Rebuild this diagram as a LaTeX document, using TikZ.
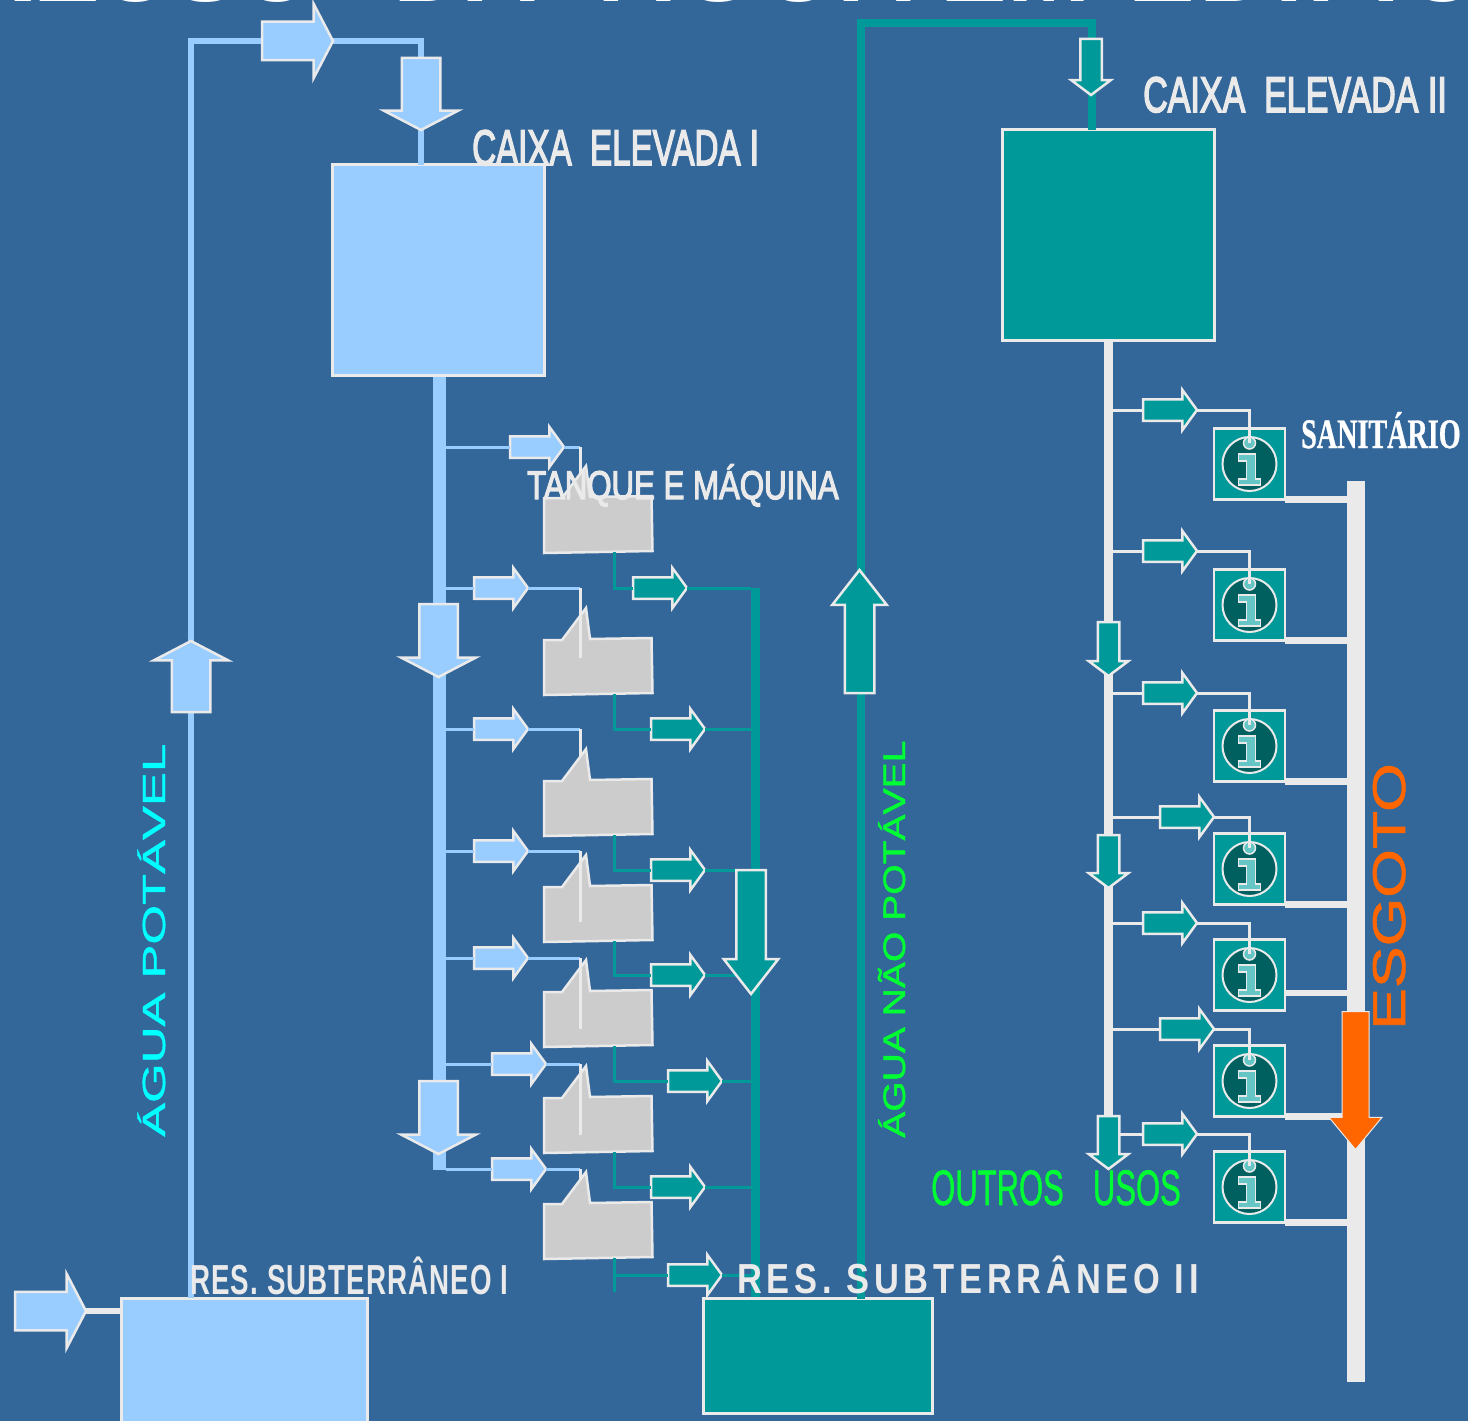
\documentclass[tikz,border=0pt]{standalone}
\usepackage{fontspec}
\setmainfont{Liberation Sans}
\newfontfamily\lblfont[FakeBold=3.5]{Liberation Sans}
\newfontfamily\thinfont[FakeBold=1.2]{Liberation Sans}
\newfontfamily\serfont[FakeBold=1]{Liberation Serif Bold}
\newfontfamily\resfont[LetterSpace=14]{Liberation Sans Bold}
\newfontfamily\restight[LetterSpace=4]{Liberation Sans Bold}
\usetikzlibrary{shapes.arrows}
\definecolor{bgblue}{HTML}{336699}
\definecolor{potfill}{HTML}{99CCFF}
\definecolor{nonpot}{HTML}{009999}
\definecolor{edge}{HTML}{EAEAEA}
\definecolor{tankgray}{HTML}{CCCCCC}
\definecolor{sewer}{HTML}{FF6600}
\definecolor{icondark}{HTML}{005F5F}
\definecolor{iconlight}{HTML}{66C6C6}
\definecolor{potlabel}{HTML}{00FFFF}
\definecolor{nonpotlabel}{HTML}{00FF33}

\begin{document}
\begin{tikzpicture}[
  x=1pt, y=-1pt,
  flowarr/.style n args={4}{single arrow, draw=edge, line width=2.5pt, outer sep=0pt,
    inner sep=#2, minimum height=#1, single arrow head extend=#3, single arrow tip angle=#4,
    single arrow head indent=0pt, anchor=tip},
  bigarr/.style={flowarr={71pt}{18pt}{18pt}{125}},
  smallarr/.style={flowarr={54pt}{9.5pt}{9.5pt}{108}},
  dnarr/.style={flowarr={#1}{9.5pt}{9pt}{106}, shape border rotate=270},
  wideteal/.style={flowarr={123pt}{13.5pt}{12.5pt}{76}},
  box/.style={draw=edge, line width=3pt, outer sep=0pt, minimum width=212pt, minimum height=211pt},
  pipe/.style={outer sep=0pt, inner sep=0pt, minimum width=#1},
  blueline/.style={potfill, line width=3pt},
  tealline/.style={nonpot, line width=3pt},
  whiteline/.style={edge, line width=3pt},
  inlet/.style={edge, line width=3pt},
  drain/.style={edge, line width=6.5pt},
  potpipe/.style={potfill, line width=6.5pt},
  tealpipe/.style={nonpot, line width=8pt},
  lbl/.style={anchor=base west, inner sep=0pt, text=edge},
  tank/.pic={
    \draw[draw=edge, fill=tankgray, line width=2.5pt] (0,0) -- (0,-55) -- (18,-55) -- (42,-87) -- (46,-56) -- (107.5,-57) -- (108.5,-2) -- cycle;
    \coordinate (-out) at (70,-1);
  },
  sanit/.pic={
    \node[draw=edge, fill=nonpot, line width=2.5pt, outer sep=0pt, minimum size=71pt] (-box) at (0,0) {};
    \draw[draw=edge, fill=icondark, line width=2pt] (0,0) circle (27pt);
    \draw[draw=edge, fill=iconlight, line width=1.5pt] (-11,-10) -- (6,-10) -- (6,15) -- (11,15) -- (11,21) -- (-11,21) -- (-11,15) -- (-3,15) -- (-3,-3) -- (-11,-3) -- cycle;
    \draw[draw=edge, fill=iconlight, line width=1.5pt] (0,-21) circle (6pt);
    \coordinate (-dot) at (0,-21);
  }
]
\useasboundingbox (0,0) rectangle (1468,1421);
\clip (0,0) rectangle (1468,1421);
\fill[bgblue] (0,0) rectangle (1468,1421);
\node[lbl, text=white] (title) at (-39,1.4) {\fontsize{100}{100}\selectfont\bfseries REUSO\hspace{77pt}DA\hspace{63pt}{\addfontfeature{LetterSpace=6}ÁGUA}\hspace{27pt}EM\hspace{38pt}{\addfontfeature{LetterSpace=4}EDIFÍCIOS}};

\coordinate (inx) at (580,0);
\coordinate (pota) at (191,41);
\coordinate (potb) at (421,41);
\coordinate (teala) at (860.5,23);
\coordinate (tealb) at (1091.5,23);

\node[pipe=13pt, fill=potfill, minimum height=794pt] (mainp) at (439,773) {};
\node[pipe=9pt, fill=nonpot, minimum height=711pt] (retp) at (755.5,943) {};
\node[pipe=9pt, fill=edge, minimum height=794pt] (servp) at (1108.5,738) {};
\node[pipe=18pt, fill=edge, minimum height=901pt] (sewp) at (1356,931.5) {};

\node[box, fill=potfill] (cx1) at (438.5,270) {};
\node[box, fill=nonpot] (cx2) at (1108.5,235) {};
\node[box, fill=potfill, minimum width=246pt, minimum height=124pt] (res1) at (244.5,1360) {};
\node[box, fill=nonpot, minimum width=229pt, minimum height=115pt] (res2) at (818,1356) {};

\draw[potpipe] (res1.north -| pota) -- (pota) -- (potb) -- (potb |- cx1.north);
\draw[tealpipe] (res2.north -| teala) -- (teala) -- (tealb) -- (tealb |- cx2.north);

\node[bigarr, fill=potfill] (top1) at (333,41) {};
\node[bigarr, fill=potfill, shape border rotate=270, minimum height=72pt] (top2) at (421,130) {};
\node[bigarr, fill=potfill, shape border rotate=90] (up1) at (191,641) {};
\node[bigarr, fill=potfill] (in1) at (86,1311) {};
\node[bigarr, fill=potfill, shape border rotate=270, minimum height=73pt] (dn1) at (438.5,677) {};
\node[bigarr, fill=potfill, shape border rotate=270, minimum height=73pt] (dn2) at (438.5,1154) {};
\node[dnarr=56pt, fill=nonpot] (top3) at (1091,95) {};
\node[wideteal, fill=nonpot, shape border rotate=90] (up2) at (859.5,570) {};
\node[dnarr=54pt, fill=nonpot] (dn4) at (1108.5,676) {};
\node[dnarr=53pt, fill=nonpot] (dn5) at (1108.5,888) {};
\node[dnarr=53pt, fill=nonpot] (dn6) at (1108.5,1169) {};
\draw[drain] (in1.tip) -- (res1.west |- in1.tip);

\node[smallarr, fill=potfill] (a1) at (564,447) {};
\node[smallarr, fill=potfill] (a2) at (528,588) {};
\node[smallarr, fill=potfill] (a3) at (528,729) {};
\node[smallarr, fill=potfill] (a4) at (528,851) {};
\node[smallarr, fill=potfill] (a5) at (528,958) {};
\node[smallarr, fill=potfill] (a6) at (546,1064) {};
\node[smallarr, fill=potfill] (a7) at (546,1169) {};

\node[smallarr, fill=nonpot] (b1) at (687,588) {};
\node[smallarr, fill=nonpot] (b2) at (705,729) {};
\node[smallarr, fill=nonpot] (b3) at (705,870) {};
\node[smallarr, fill=nonpot] (b4) at (705,975) {};
\node[smallarr, fill=nonpot] (b5) at (722,1081) {};
\node[smallarr, fill=nonpot] (b6) at (705,1187) {};
\node[smallarr, fill=nonpot] (b7) at (722,1275) {};

\node[smallarr, fill=nonpot] (c1) at (1197,410) {};
\node[smallarr, fill=nonpot] (c2) at (1197,551) {};
\node[smallarr, fill=nonpot] (c3) at (1197,693) {};
\node[smallarr, fill=nonpot] (c4) at (1214,817) {};
\node[smallarr, fill=nonpot] (c5) at (1197,923) {};
\node[smallarr, fill=nonpot] (c6) at (1214,1029) {};
\node[smallarr, fill=nonpot] (c7) at (1197,1134) {};

\draw[blueline] (mainp.east |- a1.tip) -- (a1.tail);
\draw[blueline] (mainp.east |- a2.tip) -- (a2.tail);
\draw[blueline] (mainp.east |- a3.tip) -- (a3.tail);
\draw[blueline] (mainp.east |- a4.tip) -- (a4.tail);
\draw[blueline] (mainp.east |- a5.tip) -- (a5.tail);
\draw[blueline] (mainp.east |- a6.tip) -- (a6.tail);
\draw[blueline] (mainp.east |- a7.tip) -- (a7.tail);
\draw[blueline] (a1.tip) -- (a1.tip -| inx);
\draw[blueline] (a2.tip) -- (a2.tip -| inx);
\draw[blueline] (a3.tip) -- (a3.tip -| inx);
\draw[blueline] (a4.tip) -- (a4.tip -| inx);
\draw[blueline] (a5.tip) -- (a5.tip -| inx);
\draw[blueline] (a6.tip) -- (a6.tip -| inx);
\draw[blueline] (a7.tip) -- (a7.tip -| inx);

\draw[inlet] (a1.tip -| inx) -- ++(0,70);
\draw[inlet] (a3.tip -| inx) -- ++(0,70);
\draw[inlet] (a7.tip -| inx) -- ++(0,70);

\pic (t1) at (544,553) {tank};
\pic (t2) at (544,695) {tank};
\pic (t3) at (544,836) {tank};
\pic (t4) at (544,942) {tank};
\pic (t5) at (544,1047) {tank};
\pic (t6) at (544,1153) {tank};
\pic (t7) at (544,1259) {tank};

\draw[inlet] (a2.tip -| inx) -- ++(0,70);
\draw[inlet] (a4.tip -| inx) -- ++(0,71);
\draw[inlet] (a5.tip -| inx) -- ++(0,71);
\draw[inlet] (a6.tip -| inx) -- ++(0,71);

\draw[tealline] (t1-out) |- (b1.tail);
\draw[tealline] (t2-out) |- (b2.tail);
\draw[tealline] (t3-out) |- (b3.tail);
\draw[tealline] (t4-out) |- (b4.tail);
\draw[tealline] (t5-out) |- (b5.tail);
\draw[tealline] (t6-out) |- (b6.tail);
\draw[tealline] (t7-out) |- (b7.tail);
\draw[tealline] (t7-out) -- ++(0,34);
\draw[tealline] (b1.tip) -- (b1.tip -| retp.west);
\draw[tealline] (b2.tip) -- (b2.tip -| retp.west);
\draw[tealline] (b3.tip) -- (b3.tip -| retp.west);
\draw[tealline] (b4.tip) -- (b4.tip -| retp.west);
\draw[tealline] (b5.tip) -- (b5.tip -| retp.west);
\draw[tealline] (b6.tip) -- (b6.tip -| retp.west);
\draw[tealline] (b7.tip) -- (b7.tip -| retp.west);
\node[wideteal, fill=nonpot, shape border rotate=270, minimum height=124pt] (dn3) at (751,994) {};

\pic (s1) at (1249.5,464) {sanit};
\pic (s2) at (1249.5,605) {sanit};
\pic (s3) at (1249.5,746) {sanit};
\pic (s4) at (1249.5,869) {sanit};
\pic (s5) at (1249.5,975) {sanit};
\pic (s6) at (1249.5,1081) {sanit};
\pic (s7) at (1249.5,1187) {sanit};

\draw[whiteline] (servp.east |- c1.tip) -- (c1.tail);
\draw[whiteline] (servp.east |- c2.tip) -- (c2.tail);
\draw[whiteline] (servp.east |- c3.tip) -- (c3.tail);
\draw[whiteline] (servp.east |- c4.tip) -- (c4.tail);
\draw[whiteline] (servp.east |- c5.tip) -- (c5.tail);
\draw[whiteline] (servp.east |- c6.tip) -- (c6.tail);
\draw[whiteline] (dn6.east |- c7.tip) -- (c7.tail);
\draw[whiteline] (c1.tip) -| (s1-dot);
\draw[whiteline] (c2.tip) -| (s2-dot);
\draw[whiteline] (c3.tip) -| (s3-dot);
\draw[whiteline] (c4.tip) -| (s4-dot);
\draw[whiteline] (c5.tip) -| (s5-dot);
\draw[whiteline] (c6.tip) -| (s6-dot);
\draw[whiteline] (c7.tip) -| (s7-dot);

\draw[drain] (s1-box.south east) -- (s1-box.south east -| sewp.west);
\draw[drain] (s2-box.south east) -- (s2-box.south east -| sewp.west);
\draw[drain] (s3-box.south east) -- (s3-box.south east -| sewp.west);
\draw[drain] (s4-box.south east) -- (s4-box.south east -| sewp.west);
\draw[drain] ([yshift=17.5pt]s5-box.south east) -- ([yshift=17.5pt]s5-box.south east -| sewp.west);
\draw[drain] (s6-box.south east) -- (s6-box.south east -| sewp.west);
\draw[drain] (s7-box.south east) -- (s7-box.south east -| sewp.west);

\node[flowarr={138pt}{13pt}{13pt}{79}, fill=sewer, shape border rotate=270, line width=1pt] (sew) at (1355.5,1149.5) {};

\node[lbl] (lcx1) at (472,165) {\lblfont\fontsize{50}{50}\selectfont\scalebox{.663}[1]{CAIXA~~ELEVADA I}};
\node[lbl] (lcx2) at (1143,112) {\lblfont\fontsize{50}{50}\selectfont\scalebox{.68}[1]{CAIXA~~ELEVADA II}};
\node[lbl] (ltank) at (527,499) {\lblfont\fontsize{40}{40}\selectfont\scalebox{.78}[1]{TANQUE E MÁQUINA}};
\node[lbl, text=white] (lsan) at (1301,448) {\serfont\fontsize{42}{42}\selectfont\scalebox{.67}[1]{SANITÁRIO}};
\node[lbl] (lres1) at (190,1294) {\restight\fontsize{42}{42}\selectfont\scalebox{.66}[1]{RES. SUBTERRÂNEO I}};
\node[lbl] (lres2) at (737,1293) {\resfont\fontsize{42}{42}\selectfont\scalebox{.82}[1]{RES. SUBTERRÂNEO II}};
\node[lbl, text=nonpotlabel] (lout) at (931,1205) {\thinfont\fontsize{50}{50}\selectfont\scalebox{.62}[1]{OUTROS\hspace{47pt}USOS}};
\node[lbl, text=potlabel, rotate=90] (lpot) at (165,1137) {\thinfont\fontsize{32}{32}\selectfont\scalebox{1.59}[1]{ÁGUA POTÁVEL}};
\node[lbl, text=nonpotlabel, rotate=90] (lnon) at (905,1138) {\thinfont\fontsize{31}{31}\selectfont\scalebox{1.26}[1]{ÁGUA NÃO POTÁVEL}};
\node[lbl, text=sewer, rotate=90] (lsew) at (1405,1030) {\thinfont\fontsize{46}{46}\selectfont\scalebox{1.36}[1]{ESGOTO}};
\end{tikzpicture}
\end{document}
